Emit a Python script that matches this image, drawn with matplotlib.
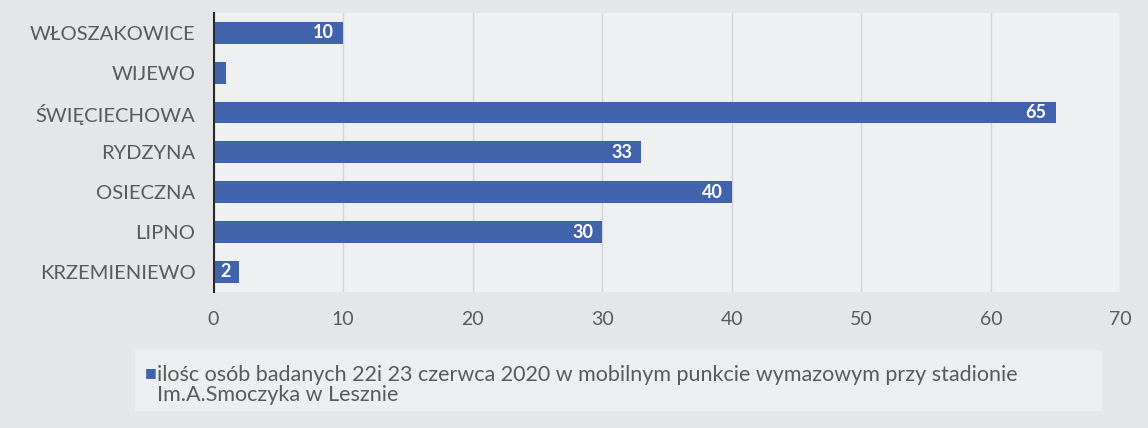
import matplotlib.pyplot as plt
import numpy as np

categories = ['WŁOSZAKOWICE', 'WIJEWO', 'ŚWIĘCIECHOWA', 'RYDZYNA', 'OSIECZNA', 'LIPNO', 'KRZEMIENIEWO']
values = [10, 1, 65, 33, 40, 30, 2]
series_label = ('ilośc osób badanych 22i 23 czerwca 2020 w mobilnym punkcie wymazowym przy stadionie\n'
                'Im.A.Smoczyka w Lesznie')
x_ticks = [0, 10, 20, 30, 40, 50, 60, 70]

bar_color = '#4163ab'
text_color = '#5a5a5a'

plt.rcParams['font.family'] = ['Lato', 'DejaVu Sans']

fig = plt.figure(figsize=(11.48, 4.28), dpi=100, facecolor='#e4e6e9')

# legend box (behind everything)
box = plt.Rectangle((0.118, 0.04), 0.842, 0.143, transform=fig.transFigure,
                    facecolor='#eceef0', edgecolor='none', zorder=-5)
fig.patches.append(box)

ax = fig.add_axes([0.186, 0.318, 0.79, 0.652])
ax.set_facecolor('#eff0f2')

y = np.arange(len(categories))
bars = ax.barh(y, values, height=0.55, color=bar_color, zorder=3)
ax.set_ylim(len(categories) - 0.5, -0.5)
ax.set_xlim(0, 70)
ax.set_yticks(y)
ax.set_yticklabels(categories, fontsize=14.5, color=text_color)
ax.set_xticks(x_ticks)
ax.set_xticklabels([str(t) for t in x_ticks], fontsize=14, color=text_color)
ax.tick_params(axis='y', length=0, pad=13)
ax.tick_params(axis='x', length=0, pad=14)

ax.grid(axis='x', color='#d2d4d8', linewidth=1, zorder=0)
for side in ['top', 'right', 'bottom']:
    ax.spines[side].set_visible(False)
ax.spines['left'].set_color('#2a2a2a')
ax.spines['left'].set_linewidth(1.5)
ax.spines['left'].set_zorder(4)

# value labels inside the bar ends
for bar, v in zip(bars, values):
    if v < 2:
        continue
    ax.text(bar.get_width() - 0.7, bar.get_y() + bar.get_height() / 2, str(v),
            ha='right', va='center', color='white', fontsize=13, fontweight='bold', zorder=5)

fig.text(0.126, 0.131, '■', color=bar_color, fontsize=9, va='center', ha='left')
fig.text(0.137, 0.147, series_label, color=text_color, fontsize=15.5, va='top', ha='left',
         linespacing=1.0)

fig.savefig('out.png', dpi=100, facecolor=fig.get_facecolor())
